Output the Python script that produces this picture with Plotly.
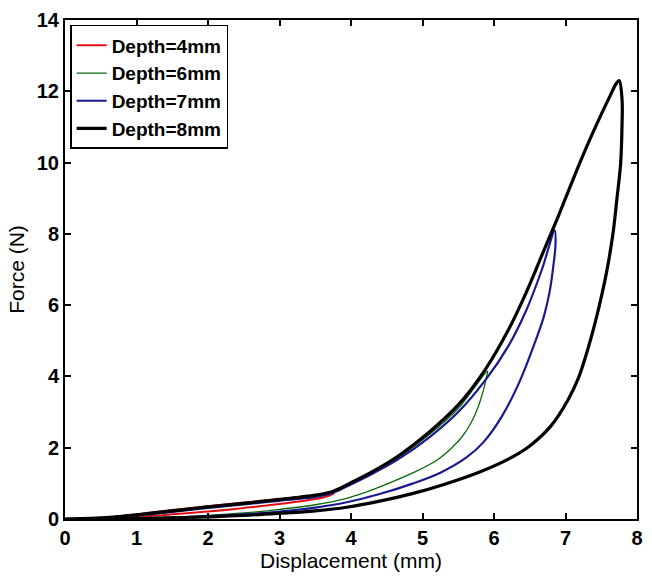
import plotly.graph_objects as go

# Indentation tests: force vs. displacement, loading + unloading per depth
depth_labels = ["Depth=4mm", "Depth=6mm", "Depth=7mm", "Depth=8mm"]
line_colors = ["#e01010", "#0a6a0a", "#1a1a90", "#000000"]
line_widths = [2.0, 1.3, 2.2, 3.2]

# Depth = 4 mm
x_4mm = [0, 0.5, 1.0, 1.5, 2.0, 2.5, 3.0, 3.5, 3.76,
         3.7, 3.5, 3.0, 2.5, 2.0, 1.5, 1.0, 0.5, 0]
f_4mm = [0, 0.03, 0.13, 0.25, 0.36, 0.46, 0.56, 0.66, 0.72,
         0.66, 0.56, 0.42, 0.31, 0.21, 0.13, 0.06, 0.015, 0]

# Depth = 6 mm
x_6mm = [0, 0.5, 1.0, 1.5, 2.0, 2.5, 3.0, 3.5, 3.75, 4.0, 4.3, 4.64, 5.1, 5.5, 5.91,
         5.89, 5.85, 5.78, 5.68, 5.55, 5.4, 5.2, 4.87, 4.5, 4.2, 3.94, 3.5,
         3.0, 2.5, 2.0, 1.5, 1.0, 0.5, 0]
f_6mm = [0, 0.02, 0.11, 0.21, 0.32, 0.42, 0.52, 0.63, 0.75, 1.0, 1.3, 1.7, 2.38, 3.1, 4.15,
         3.95, 3.6, 3.15, 2.7, 2.3, 1.98, 1.65, 1.3, 0.98, 0.75, 0.58, 0.4,
         0.27, 0.17, 0.1, 0.05, 0.02, 0.005, 0]

# Depth = 7 mm
x_7mm = [0, 0.5, 1.0, 1.5, 2.0, 2.5, 3.0, 3.5, 3.75, 4.0, 4.3, 4.64, 5.1, 5.5, 5.9, 6.2, 6.45, 6.67, 6.85,
         6.86, 6.83, 6.78, 6.7, 6.57, 6.35, 6.11, 5.85, 5.61, 5.25, 4.87, 4.4, 3.94,
         3.5, 3.0, 2.5, 2.0, 1.5, 1.0, 0.5, 0]
f_7mm = [0, 0.02, 0.1, 0.2, 0.31, 0.41, 0.51, 0.62, 0.74, 0.97, 1.27, 1.65, 2.3, 3.0, 3.95, 4.85, 5.85, 7.0, 8.1,
         7.7, 7.1, 6.4, 5.7, 4.94, 3.82, 2.88, 2.15, 1.72, 1.3, 1.0, 0.7, 0.47,
         0.32, 0.21, 0.13, 0.08, 0.04, 0.015, 0, 0]

# Depth = 8 mm
x_8mm = [0, 0.5, 1.0, 1.5, 2.0, 2.5, 3.0, 3.5, 3.75, 4.0, 4.3, 4.64, 5.1, 5.5, 5.88, 6.2,
         6.45, 6.67, 6.9, 7.13, 7.33, 7.5, 7.63, 7.71, 7.75,
         7.79, 7.79, 7.77, 7.72, 7.67, 7.6, 7.52, 7.42, 7.31, 7.18, 7.04, 6.8, 6.5,
         6.2, 5.8, 5.3, 4.87, 4.4, 3.94, 3.5, 3.0, 2.5, 2.0, 1.5, 1.0, 0.5, 0]
f_8mm = [0, 0.03, 0.12, 0.23, 0.34, 0.44, 0.55, 0.67, 0.78, 1.02, 1.33, 1.74, 2.45, 3.2, 4.2, 5.3,
         6.35, 7.4, 8.5, 9.65, 10.6, 11.35, 11.9, 12.22, 12.3,
         11.8, 11.0, 9.95, 9.0, 8.1, 7.2, 6.4, 5.55, 4.75, 3.95, 3.36, 2.62, 2.05,
         1.68, 1.32, 0.97, 0.72, 0.5, 0.33, 0.23, 0.16, 0.1, 0.06, 0.03, 0.01, 0, 0]

x_series = [x_4mm, x_6mm, x_7mm, x_8mm]
f_series = [f_4mm, f_6mm, f_7mm, f_8mm]

x_ticks = [0, 1, 2, 3, 4, 5, 6, 7, 8]
y_ticks = [0, 2, 4, 6, 8, 10, 12, 14]

FONT = "Liberation Sans, Arial, Helvetica, sans-serif"

fig = go.Figure()
for name, xs, fs, col, w in zip(depth_labels, x_series, f_series, line_colors, line_widths):
    fig.add_trace(go.Scatter(
        x=xs, y=fs, mode="lines", name=name,
        line=dict(color=col, width=w, shape="spline", smoothing=1.0),
    ))

axis_common = dict(
    showline=True, linecolor="black", linewidth=2,
    mirror="ticks", ticks="inside", ticklen=6, tickwidth=1.5, tickcolor="black",
    showgrid=False, zeroline=False,
    tickfont=dict(family=FONT, size=20, color="black", weight="bold"),
)

fig.update_layout(
    width=652, height=577,
    margin=dict(l=65, r=9, t=18, b=56),
    paper_bgcolor="white", plot_bgcolor="white",
    showlegend=True,
    legend=dict(
        x=0.009, y=0.99, xanchor="left", yanchor="top",
        bgcolor="white", bordercolor="black", borderwidth=1.5,
        font=dict(family=FONT, size=19, color="black", weight="bold"),
        tracegroupgap=0,
    ),
    xaxis=dict(
        range=[0, 8], tickvals=x_ticks, ticktext=[str(v) for v in x_ticks],
        title=dict(text="Displacement (mm)", font=dict(family=FONT, size=21, color="black"), standoff=4),
        **axis_common,
    ),
    yaxis=dict(
        range=[0, 14], tickvals=y_ticks, ticktext=[str(v) for v in y_ticks],
        title=dict(text="Force (N)", font=dict(family=FONT, size=21, color="black"), standoff=6),
        **axis_common,
    ),
)

fig.write_html("out.html")
